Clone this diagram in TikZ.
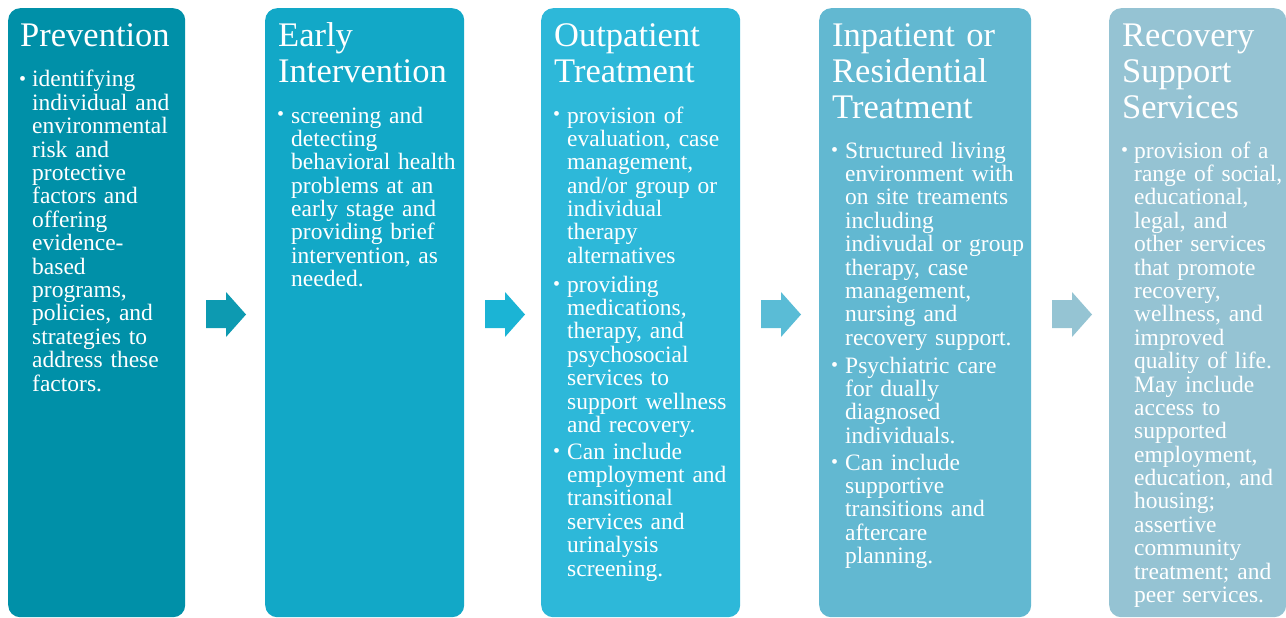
\documentclass[tikz,border=0pt]{standalone}
\usepackage{fontspec}
\setmainfont{Liberation Serif}
\definecolor{bA}{HTML}{0090A8}
\definecolor{bB}{HTML}{12A8C7}
\definecolor{bC}{HTML}{2DB8D9}
\definecolor{bD}{HTML}{62B8D1}
\definecolor{bE}{HTML}{95C3D3}
\definecolor{aA}{HTML}{0D9AB1}
\definecolor{aB}{HTML}{1BB4D5}
\definecolor{aC}{HTML}{5ABCD6}
\definecolor{aD}{HTML}{95C4D3}
\tikzset{
  colbox/.style={rectangle, rounded corners=12pt, inner sep=0pt, anchor=north west, minimum height=609pt},
  ttl/.style={anchor=base west, inner sep=0pt, text=white, text width=220pt, align=left,
    font=\fontsize{34.5}{36}\selectfont},
  body/.style={anchor=base west, inner sep=0pt, text=white, text width=220pt, align=left,
    font=\fontsize{23.5}{23.4}\selectfont},
  bul/.style={anchor=base west, inner sep=0pt, text=white, font=\fontsize{20}{20}\selectfont},
}
\newcommand\flowarrow[3]{%
  \fill[#2] (#1,300) -- ({#1+20},300) -- ({#1+20},292) -- ({#1+40},314.5)
    -- ({#1+20},337) -- ({#1+20},328) -- (#1,328) -- cycle;
  \coordinate (#3) at ({#1+20},314.5);}
\begin{document}
\begin{tikzpicture}[x=1pt,y=-1pt]
\useasboundingbox (0,0) rectangle (1286,618);
% boxes
\node[colbox, fill=bA, minimum width=177pt] (b1) at (8,8) {};
\node[colbox, fill=bB, minimum width=199pt] (b2) at (265,8) {};
\node[colbox, fill=bC, minimum width=199pt] (b3) at (541,8) {};
\node[colbox, fill=bD, minimum width=212pt] (b4) at (819,8) {};
\node[colbox, fill=bE, minimum width=177pt] (b5) at (1109,8) {};
% arrows
\flowarrow{206}{aA}{a1}
\flowarrow{485}{aB}{a2}
\flowarrow{761}{aC}{a3}
\flowarrow{1052}{aD}{a4}
% box 1
\node[ttl] (t1) at (20,47) {Prevention};
\node[bul] (u11) at (19,85) {\textbullet};
\node[body] (p11) at (32,87) {identifying\\individual and\\environmental\\risk and\\protective\\factors and\\offering\\evidence-\\based\\programs,\\policies, and\\strategies to\\address these\\factors.};
% box 2
\node[ttl] (t2) at (278,47) {Early\\Intervention};
\node[bul] (u21) at (277,121) {\textbullet};
\node[body] (p21) at (291,123) {screening and\\detecting\\behavioral health\\problems at an\\early stage and\\providing brief\\intervention, as\\needed.};
% box 3
\node[ttl] (t3) at (554,47) {Outpatient\\Treatment};
\node[bul] (u31) at (553,121) {\textbullet};
\node[body] (p31) at (567,123) {provision of\\evaluation, case\\management,\\and/or group or\\individual\\therapy\\alternatives};
\node[bul] (u32) at (553,290) {\textbullet};
\node[body] (p32) at (567,292) {providing\\medications,\\therapy, and\\psychosocial\\services to\\support wellness\\and recovery.};
\node[bul] (u33) at (553,457) {\textbullet};
\node[body] (p33) at (567,459) {Can include\\employment and\\transitional\\services and\\urinalysis\\screening.};
% box 4
\node[ttl] (t4) at (832,47) {Inpatient or\\Residential\\Treatment};
\node[bul] (u41) at (831,156) {\textbullet};
\node[body] (p41) at (845,158) {Structured living\\environment with\\on site treaments\\including\\indivudal or group\\therapy, case\\management,\\nursing and\\recovery support.};
\node[bul] (u42) at (831,371) {\textbullet};
\node[body] (p42) at (845,373) {Psychiatric care\\for dually\\diagnosed\\individuals.};
\node[bul] (u43) at (831,468) {\textbullet};
\node[body] (p43) at (845,470) {Can include\\supportive\\transitions and\\aftercare\\planning.};
% box 5
\node[ttl] (t5) at (1122,47) {Recovery\\Support\\Services};
\node[bul] (u51) at (1121,156) {\textbullet};
\node[body] (p51) at (1134,158) {provision of a\\range of social,\\educational,\\legal, and\\other services\\that promote\\recovery,\\wellness, and\\improved\\quality of life.\\May include\\access to\\supported\\employment,\\education, and\\housing;\\assertive\\community\\treatment; and\\peer services.};
\end{tikzpicture}
\end{document}
